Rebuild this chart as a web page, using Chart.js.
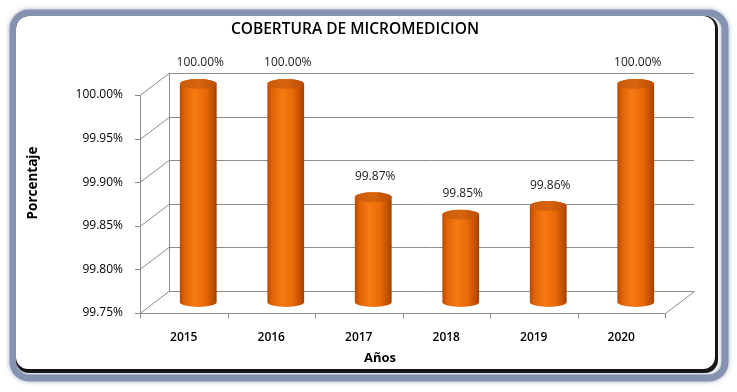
<!DOCTYPE html>
<html>
<head>
<meta charset="utf-8">
<script src="https://cdn.jsdelivr.net/npm/chart.js@4.4.1/dist/chart.umd.min.js"></script>
<style>
  html, body { margin: 0; padding: 0; background: #ffffff; }
  #wrap { width: 737px; height: 392px; position: relative; }
</style>
</head>
<body>
<div id="wrap"><canvas id="c" width="737" height="392"></canvas></div>
<script>
const categories = ['2015', '2016', '2017', '2018', '2019', '2020'];
const coverage = [100.00, 100.00, 99.87, 99.85, 99.86, 100.00];
const yMin = 99.75;
const yMax = 100.00;
const yStep = 0.05;
const chartTitle = 'COBERTURA DE MICROMEDICION';
const xTitle = 'Años';
const yTitle = 'Porcentaje';

const DX = 29, DY = -22;
const FONT = "'Open Sans', 'DejaVu Sans', sans-serif";

function roundRect(ctx, x, y, w, h, r) {
  ctx.beginPath();
  ctx.moveTo(x + r, y);
  ctx.lineTo(x + w - r, y);
  ctx.arcTo(x + w, y, x + w, y + r, r);
  ctx.lineTo(x + w, y + h - r);
  ctx.arcTo(x + w, y + h, x + w - r, y + h, r);
  ctx.lineTo(x + r, y + h);
  ctx.arcTo(x, y + h, x, y + h - r, r);
  ctx.lineTo(x, y + r);
  ctx.arcTo(x, y, x + r, y, r);
  ctx.closePath();
}

const framePlugin = {
  id: 'frame',
  beforeDraw(chart) {
    const ctx = chart.ctx;
    ctx.save();
    ctx.fillStyle = '#ffffff';
    ctx.fillRect(0, 0, chart.width, chart.height);
    ctx.shadowColor = 'rgba(90,110,150,0.55)';
    ctx.shadowBlur = 5;
    roundRect(ctx, 13, 13, 712, 365, 16);
    ctx.lineWidth = 7;
    ctx.strokeStyle = '#8593b0';
    ctx.stroke();
    ctx.shadowBlur = 0;
    ctx.shadowColor = 'transparent';
    roundRect(ctx, 16, 16, 702, 357, 13);
    ctx.fillStyle = '#1a1a1a';
    ctx.fill();
    ctx.save();
    roundRect(ctx, 16, 16, 702, 357, 13);
    ctx.clip();
    ctx.shadowColor = 'rgba(0,0,0,0.6)';
    ctx.shadowBlur = 4;
    roundRect(ctx, 16, 16, 699, 353, 12);
    ctx.fillStyle = '#ffffff';
    ctx.fill();
    ctx.restore();
    ctx.restore();
  },
  beforeDatasetsDraw(chart) {
    const ctx = chart.ctx;
    const ys = chart.scales.y;
    const a = chart.chartArea;
    ctx.save();
    ctx.strokeStyle = '#8c8c8c';
    ctx.lineWidth = 1;
    ctx.beginPath();
    ys.ticks.forEach(t => {
      const y = Math.round(ys.getPixelForValue(t.value)) + 0.5;
      ctx.moveTo(a.left + DX, y + DY);
      ctx.lineTo(a.right + DX, y + DY);
      ctx.moveTo(a.left, y);
      ctx.lineTo(a.left + DX, y + DY);
      ctx.moveTo(a.left - 5, y);
      ctx.lineTo(a.left, y);
    });
    const top = Math.round(a.top) + 0.5, bot = Math.round(a.bottom) + 0.5;
    const L = Math.round(a.left) + 0.5, R = Math.round(a.right) + 0.5;
    ctx.moveTo(L, top); ctx.lineTo(L, bot);
    ctx.moveTo(L + DX, top + DY); ctx.lineTo(L + DX, bot + DY);
    ctx.moveTo(L, bot); ctx.lineTo(R, bot);
    ctx.lineTo(R + DX, bot + DY);
    const n = categories.length;
    const w = (a.right - a.left) / n;
    for (let i = 0; i <= n; i++) {
      const x = Math.round(a.left + i * w) + 0.5;
      ctx.moveTo(x, bot);
      ctx.lineTo(x, bot + 5);
    }
    ctx.stroke();
    ctx.restore();
  },
  afterDatasetsDraw(chart) {
    const ctx = chart.ctx;
    const meta = chart.getDatasetMeta(0);
    ctx.save();
    meta.data.forEach((el, i) => {
      const p = el.getProps(['x', 'y', 'base', 'width'], true);
      const cx = p.x + DX / 2;
      const ty = p.y + DY / 2;
      const by = p.base + DY / 2;
      const rx = p.width / 2;
      const ry = 5;
      const g = ctx.createLinearGradient(cx - rx, 0, cx + rx, 0);
      g.addColorStop(0, '#b84800');
      g.addColorStop(0.12, '#e06206');
      g.addColorStop(0.4, '#f77a12');
      g.addColorStop(0.7, '#e86808');
      g.addColorStop(0.9, '#c05000');
      g.addColorStop(1, '#a04000');
      ctx.beginPath();
      ctx.moveTo(cx - rx, ty);
      ctx.lineTo(cx - rx, by);
      ctx.ellipse(cx, by, rx, ry, 0, Math.PI, 0, true);
      ctx.lineTo(cx + rx, ty);
      ctx.ellipse(cx, ty, rx, ry, 0, 0, Math.PI, true);
      ctx.closePath();
      ctx.fillStyle = g;
      ctx.fill();
      const g2 = ctx.createLinearGradient(cx - rx, 0, cx + rx, 0);
      g2.addColorStop(0, '#c85a0a');
      g2.addColorStop(0.5, '#d8640e');
      g2.addColorStop(1, '#b94e04');
      ctx.beginPath();
      ctx.ellipse(cx, ty, rx, ry, 0, 0, Math.PI * 2);
      ctx.fillStyle = g2;
      ctx.fill();
      ctx.fillStyle = '#1a1a1a';
      ctx.font = '12px ' + FONT;
      ctx.textAlign = 'center';
      ctx.textBaseline = 'middle';
      ctx.fillText(coverage[i].toFixed(2) + '%', cx + 2, ty - 21);
    });
    ctx.fillStyle = '#000000';
    ctx.textAlign = 'center';
    ctx.textBaseline = 'middle';
    ctx.font = '600 15.5px ' + FONT;
    ctx.fillText(chartTitle, 355, 30);
    ctx.font = 'bold 13px ' + FONT;
    ctx.fillText(xTitle, 380, 358);
    ctx.save();
    ctx.translate(33, 183);
    ctx.rotate(-Math.PI / 2);
    ctx.font = 'bold 13.5px ' + FONT;
    ctx.fillText(yTitle, 0, 0);
    ctx.restore();
    ctx.restore();
  }
};

new Chart(document.getElementById('c'), {
  type: 'bar',
  data: {
    labels: categories,
    datasets: [{
      label: 'Cobertura',
      data: coverage,
      base: yMin,
      backgroundColor: 'rgba(0,0,0,0)',
      borderWidth: 0,
      barPercentage: 0.42,
      categoryPercentage: 1.0
    }]
  },
  options: {
    responsive: false,
    animation: false,
    devicePixelRatio: 1,
    layout: { padding: { left: 20, right: 72, top: 95, bottom: 0 } },
    plugins: {
      legend: { display: false },
      title: { display: false },
      tooltip: { enabled: false }
    },
    scales: {
      x: {
        grid: { display: false, drawTicks: false },
        border: { display: false },
        ticks: {
          padding: 17,
          color: '#000000',
          font: { family: FONT, size: 12, weight: '600' }
        },
        afterFit(s) { s.height = 79; }
      },
      y: {
        min: yMin,
        max: yMax,
        grid: { display: false, drawTicks: false },
        border: { display: false },
        ticks: {
          stepSize: yStep,
          padding: 17,
          color: '#000000',
          font: { family: FONT, size: 12 },
          callback: v => Number(v).toFixed(2) + '%'
        },
        afterFit(s) { s.width = 120; }
      }
    }
  },
  plugins: [framePlugin]
});
</script>
</body>
</html>
